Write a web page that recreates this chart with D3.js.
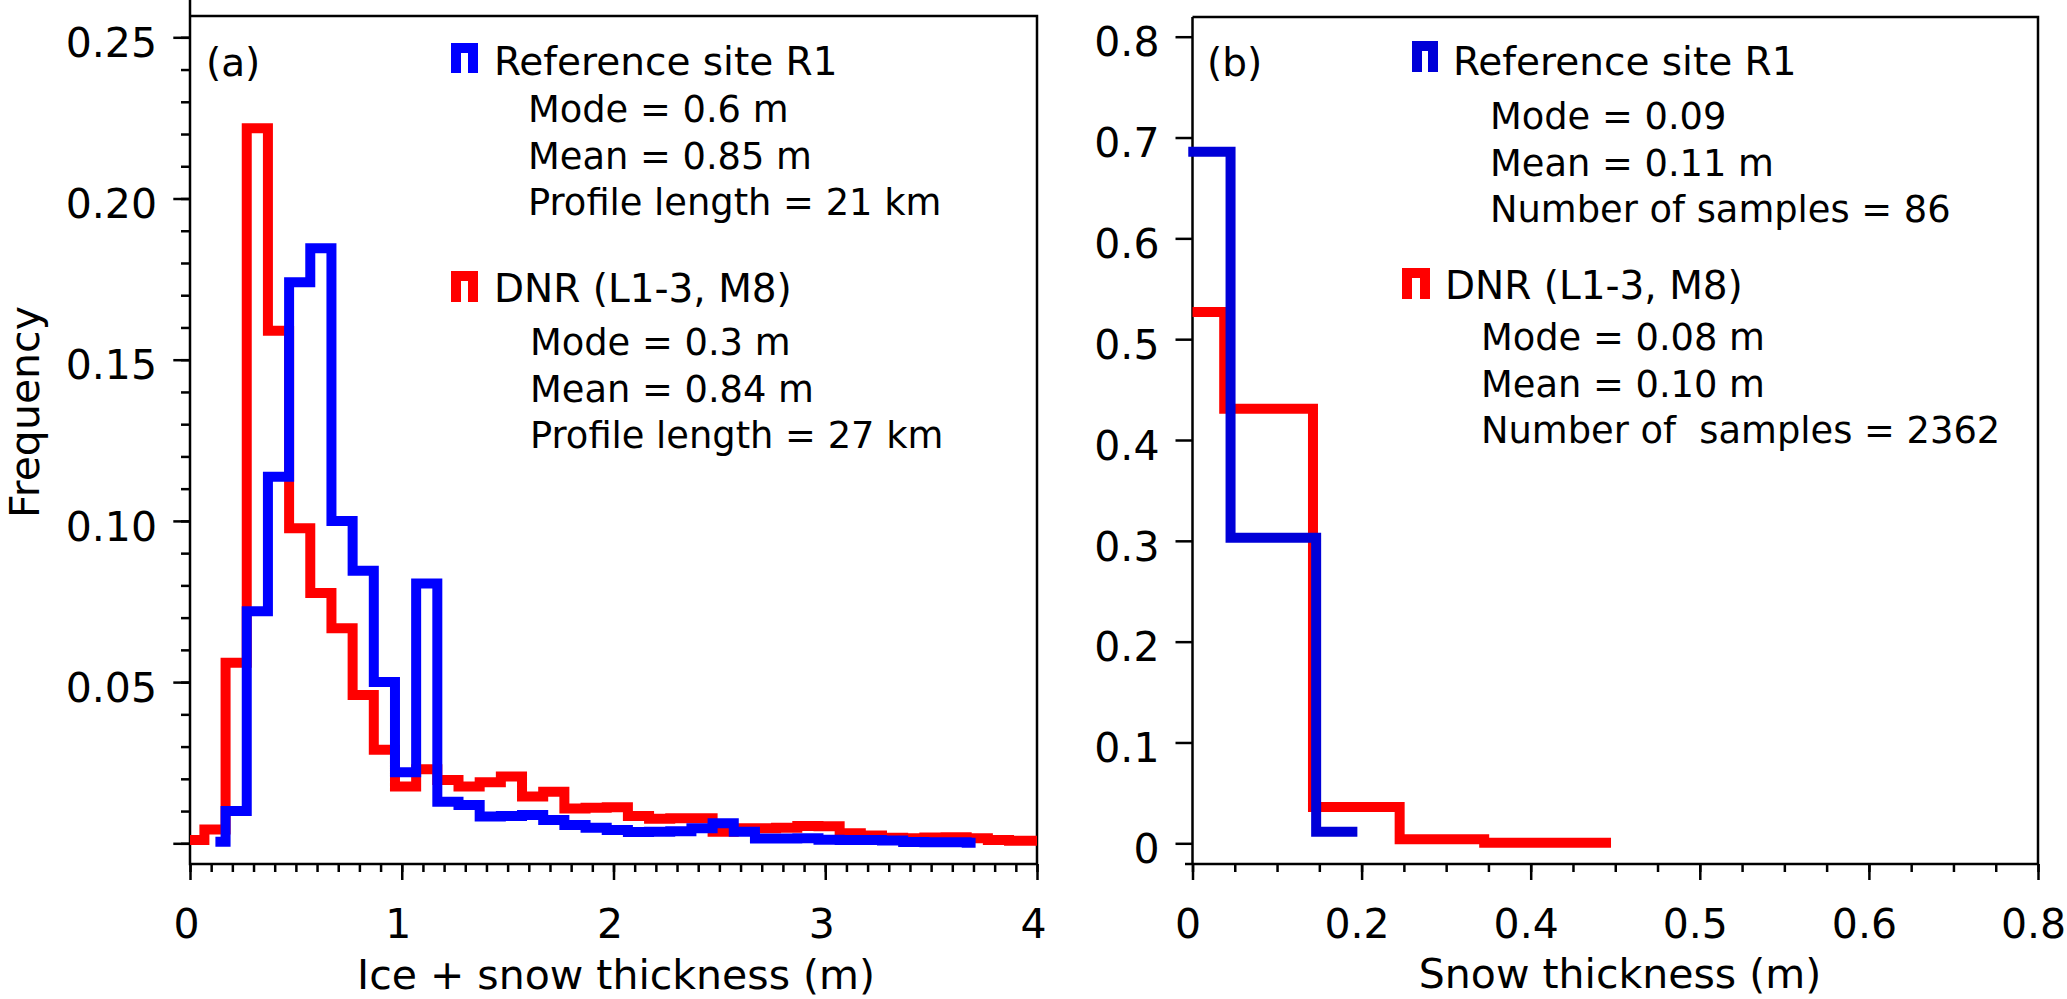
<!DOCTYPE html>
<html>
<head>
<meta charset="utf-8"/>
<script src="https://cdn.jsdelivr.net/npm/d3@7"></script>
<title>Ice and snow thickness histograms</title>
<style>
body {
  margin: 0;
  background: #fff;
}

text {
  font-family: "DejaVu Sans", sans-serif;
  fill: #000;
}

.axis line {
  stroke: #000;
  stroke-width: 2.5;
}

.axis path {
  display: none;
}

.frame {
  stroke: #000;
  stroke-width: 2.5;
  fill: none;
}

.hist {
  fill: none;
  stroke-width: 10;
  stroke-linejoin: miter;
  stroke-linecap: butt;
}
</style>
</head>
<body>
<svg width="2067" height="999"></svg>
<script>
// (a) ice + snow thickness, bin edges (m) and frequencies
var iceEdgesR1 = [0.12, 0.168, 0.268, 0.368, 0.468, 0.568, 0.668, 0.768, 0.868, 0.968,
  1.068, 1.168, 1.268, 1.368, 1.468, 1.568, 1.668, 1.768, 1.868, 1.968,
  2.068, 2.168, 2.268, 2.368, 2.468, 2.568, 2.668, 2.768, 2.868, 2.968,
  3.068, 3.168, 3.268, 3.368, 3.468, 3.568, 3.668, 3.71];
var iceFreqR1 = [0.0005, 0.0100, 0.072, 0.1137, 0.174, 0.1846, 0.100, 0.0845, 0.050,
  0.022, 0.0806, 0.0129, 0.0119, 0.0083, 0.0085, 0.0088, 0.0072, 0.0057, 0.0048,
  0.0041, 0.0035, 0.0036, 0.0037, 0.0047, 0.0062, 0.0036, 0.0015, 0.0015, 0.0016,
  0.0011, 0.0010, 0.0010, 0.0009, 0.0004, 0.0003, 0.0003, 0.0002];

var iceEdgesDNR = [0, 0.068, 0.168, 0.268, 0.368, 0.468, 0.568, 0.668, 0.768, 0.868, 0.968,
  1.068, 1.168, 1.268, 1.368, 1.468, 1.568, 1.668, 1.768, 1.868, 1.968,
  2.068, 2.168, 2.268, 2.368, 2.468, 2.568, 2.668, 2.768, 2.868, 2.968,
  3.068, 3.168, 3.268, 3.368, 3.468, 3.568, 3.668, 3.768, 3.868, 3.968, 4.0];
var iceFreqDNR = [0.001, 0.0043, 0.056, 0.2218, 0.159, 0.0977, 0.0776, 0.0667, 0.046,
  0.029, 0.0176, 0.023, 0.0196, 0.0176, 0.0189, 0.0207, 0.0145, 0.016, 0.0108,
  0.011, 0.0112, 0.0085, 0.0076, 0.0078, 0.0078, 0.0036, 0.0047, 0.0047, 0.0048,
  0.0054, 0.0053, 0.0031, 0.0024, 0.0017, 0.0016, 0.0018, 0.0019, 0.0016, 0.001,
  0.0008, 0.0008];

// (b) snow thickness
var snowEdgesR1 = [-0.004, 0.036, 0.117, 0.156];
var snowFreqR1 = [0.686, 0.303, 0.0115];
var snowEdgesDNR = [0, 0.03, 0.114, 0.196, 0.276, 0.396];
var snowFreqDNR = [0.527, 0.431, 0.036, 0.004, 0.0006];

// tick values and labels
var iceXTicks = [0, 1, 2, 3, 4];
var iceXLabels = ["0", "1", "2", "3", "4"];
var iceYTicks = [0, 0.05, 0.10, 0.15, 0.20, 0.25];
var iceYLabels = ["", "0.05", "0.10", "0.15", "0.20", "0.25"];
var snowXTicks = [0, 0.16, 0.32, 0.48, 0.64, 0.8];
var snowXLabels = ["0", "0.2", "0.4", "0.5", "0.6", "0.8"];
var snowYTicks = [0, 0.1, 0.2, 0.3, 0.4, 0.5, 0.6, 0.7, 0.8];
var snowYLabels = ["0", "0.1", "0.2", "0.3", "0.4", "0.5", "0.6", "0.7", "0.8"];

var legendNames = ["Reference site R1", "DNR (L1-3, M8)"];
var iceStatsR1 = ["Mode = 0.6 m", "Mean = 0.85 m", "Profile length = 21 km"];
var iceStatsDNR = ["Mode = 0.3 m", "Mean = 0.84 m", "Profile length = 27 km"];
var snowStatsR1 = ["Mode = 0.09", "Mean = 0.11 m", "Number of samples = 86"];
var snowStatsDNR = ["Mode = 0.08 m", "Mean = 0.10 m", "Number of  samples = 2362"];

var svg = d3.select("svg");
var axisY = 864, frameY = 16;

// scales
var xA = d3.scaleLinear().domain([0, 4]).range([190, 1037]);
var yA = d3.scaleLinear().domain([0, 0.25]).range([843.3, 37.3]);
var xB = d3.scaleLinear().domain([0, 0.8]).range([1192.5, 2038]);
var yB = d3.scaleLinear().domain([0, 0.8]).range([843.3, 36.7]);

function steps(edges, freq) {
  return edges.map(function(e, i) { return [e, freq[Math.min(i, freq.length - 1)]]; });
}

function histLine(x, y) {
  return d3.line()
      .x(function(d) { return x(d[0]); })
      .y(function(d) { return y(d[1]); })
      .curve(d3.curveStepAfter);
}

// ---- panel (a) ----
var gA = svg.append("g");

gA.append("g").attr("class", "axis")
    .attr("transform", "translate(0," + axisY + ")")
    .call(d3.axisBottom(xA).tickValues(d3.range(0, 4.001, 0.1)).tickSize(8).tickFormat(""));
gA.append("g").attr("class", "axis")
    .attr("transform", "translate(0," + axisY + ")")
    .call(d3.axisBottom(xA).tickValues(iceXTicks).tickSize(16)
      .tickFormat(function(d, i) { return iceXLabels[i]; }))
  .selectAll("text")
    .attr("y", 74).attr("dy", 0).attr("dx", -4)
    .style("font-size", "41px");

gA.append("g").attr("class", "axis")
    .attr("transform", "translate(190,0)")
    .call(d3.axisLeft(yA).tickValues(d3.range(0, 0.2501, 0.01)).tickSize(9).tickFormat(""));
gA.append("g").attr("class", "axis")
    .attr("transform", "translate(190,0)")
    .call(d3.axisLeft(yA).tickValues(iceYTicks).tickSize(16.7)
      .tickFormat(function(d, i) { return iceYLabels[i]; }))
  .selectAll("text")
    .attr("x", -33).attr("dy", "0.47em")
    .style("font-size", "41px");

gA.append("path").attr("class", "frame")
    .attr("d", "M190,0V" + axisY + "H1037V" + frameY + "H190");

gA.append("path").attr("class", "hist")
    .attr("stroke", "#ff0000")
    .attr("d", histLine(xA, yA)(steps(iceEdgesDNR, iceFreqDNR)));
gA.append("path").attr("class", "hist")
    .attr("stroke", "#0000ff")
    .attr("d", histLine(xA, yA)(steps(iceEdgesR1, iceFreqR1)));

gA.append("text").attr("x", 616).attr("y", 989)
    .attr("text-anchor", "middle").style("font-size", "41px")
    .text("Ice + snow thickness (m)");
gA.append("text")
    .attr("transform", "translate(39,412) rotate(-90)")
    .attr("text-anchor", "middle").style("font-size", "41px")
    .text("Frequency");

// ---- panel (b) ----
var gB = svg.append("g");

gB.append("g").attr("class", "axis")
    .attr("transform", "translate(0," + axisY + ")")
    .call(d3.axisBottom(xB).tickValues(d3.range(0, 0.8001, 0.04)).tickSize(8).tickFormat(""));
gB.append("g").attr("class", "axis")
    .attr("transform", "translate(0," + axisY + ")")
    .call(d3.axisBottom(xB).tickValues(snowXTicks).tickSize(16)
      .tickFormat(function(d, i) { return snowXLabels[i]; }))
  .selectAll("text")
    .attr("y", 74).attr("dy", 0).attr("dx", -5)
    .style("font-size", "41px");

gB.append("g").attr("class", "axis")
    .attr("transform", "translate(1192.5,0)")
    .call(d3.axisLeft(yB).tickValues(snowYTicks).tickSize(17)
      .tickFormat(function(d, i) { return snowYLabels[i]; }))
  .selectAll("text")
    .attr("x", -33).attr("dy", "0.47em")
    .style("font-size", "41px");

gB.append("path").attr("class", "frame")
    .attr("d", "M1192.5," + (frameY + 1) + "V" + axisY + "M1185," + axisY + "H2038V" + (frameY + 1) + "H1192.5");

gB.append("path").attr("class", "hist")
    .attr("stroke", "#ff0000")
    .attr("d", histLine(xB, yB)(steps(snowEdgesDNR, snowFreqDNR)));
gB.append("path").attr("class", "hist")
    .attr("stroke", "#0000d8")
    .attr("d", histLine(xB, yB)(steps(snowEdgesR1, snowFreqR1)));

gB.append("text").attr("x", 1620).attr("y", 988)
    .attr("text-anchor", "middle").style("font-size", "41px")
    .text("Snow thickness (m)");

// ---- panel letters, legend marks and statistics ----
function legendMark(g, x0, x1, y0, y1, colour) {
  g.append("path")
      .attr("d", "M" + (x0 + 5) + "," + y1 + "V" + (y0 + 5) + "H" + (x1 - 5) + "V" + y1)
      .attr("fill", "none")
      .attr("stroke", colour)
      .attr("stroke-width", 10)
      .attr("stroke-linejoin", "miter");
}

function statsBlock(g, x, y, lines) {
  g.selectAll(null)
    .data(lines)
    .enter().append("text")
      .attr("x", x)
      .attr("y", function(d, i) { return y + i * 46.5; })
      .style("font-size", "36.8px")
      .style("white-space", "pre")
      .text(function(d) { return d; });
}

gA.append("text").attr("x", 206).attr("y", 76).style("font-size", "39px").text("(a)");
legendMark(gA, 451, 478, 43, 73, "#0000ff");
gA.append("text").attr("x", 494).attr("y", 75).style("font-size", "39px").text(legendNames[0]);
statsBlock(gA, 528, 122, iceStatsR1);
legendMark(gA, 451, 478, 271, 302, "#ff0000");
gA.append("text").attr("x", 494).attr("y", 302).style("font-size", "39px").text(legendNames[1]);
statsBlock(gA, 530, 355, iceStatsDNR);

gB.append("text").attr("x", 1207).attr("y", 76).style("font-size", "39px").text("(b)");
legendMark(gB, 1412, 1438, 41, 72, "#0000d8");
gB.append("text").attr("x", 1453).attr("y", 75).style("font-size", "39px").text(legendNames[0]);
statsBlock(gB, 1490, 129, snowStatsR1);
legendMark(gB, 1402, 1430, 268, 299, "#ff0000");
gB.append("text").attr("x", 1445).attr("y", 299).style("font-size", "39px").text(legendNames[1]);
statsBlock(gB, 1481, 350, snowStatsDNR);
</script>
</body>
</html>
